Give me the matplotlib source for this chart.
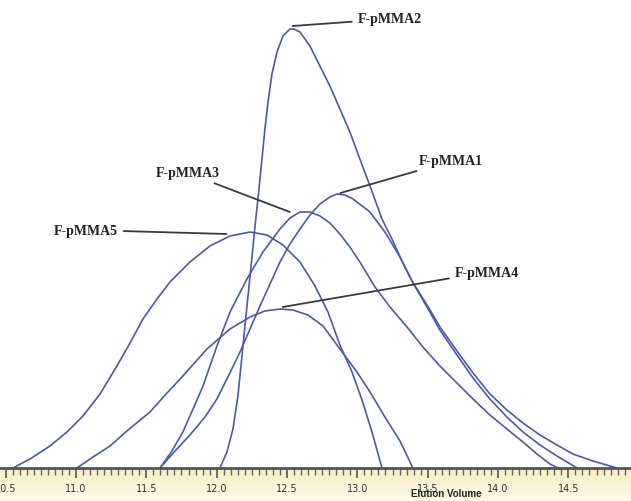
import matplotlib.pyplot as plt
from matplotlib.colors import LinearSegmentedColormap
import numpy as np

# elution volume (mL) / detector signal (arbitrary units)
pmma5_x = [10.552, 10.673, 10.815, 10.936, 11.050, 11.171, 11.291, 11.384, 11.476,
           11.576, 11.668, 11.810, 11.952, 12.095, 12.237, 12.358, 12.471, 12.592,
           12.699, 12.791, 12.876, 12.962, 13.033, 13.104, 13.175]
pmma5_y = [0, 9, 22, 36, 52, 74, 102, 125, 149, 169, 186, 206, 222, 232, 236, 233,
           223, 206, 182, 156, 123, 96, 68, 36, 0]

pmma4_x = [11.007, 11.121, 11.242, 11.362, 11.526, 11.647, 11.760, 11.931, 12.095,
           12.237, 12.343, 12.450, 12.542, 12.649, 12.756, 12.876, 12.997, 13.090,
           13.196, 13.303, 13.395]
pmma4_y = [0, 11, 22, 37, 56, 75, 92, 119, 139, 151, 157, 159, 158, 153, 142, 119,
           96, 76, 51, 27, 0]

pmma3_x = [11.597, 11.682, 11.760, 11.832, 11.903, 12.002, 12.095, 12.215, 12.329,
           12.450, 12.521, 12.592, 12.663, 12.734, 12.805, 12.876, 12.947, 13.018,
           13.125, 13.232, 13.353, 13.466, 13.587, 13.708, 13.822, 13.942, 14.063,
           14.177, 14.277, 14.369, 14.426]
pmma3_y = [0, 17, 36, 59, 82, 122, 156, 189, 216, 239, 250, 256, 256, 252, 245, 234,
           221, 206, 181, 161, 141, 121, 102, 85, 69, 53, 39, 26, 14, 4, 0]

pmma1_x = [11.597, 11.704, 11.810, 11.917, 12.002, 12.080, 12.166, 12.237, 12.308,
           12.379, 12.450, 12.521, 12.592, 12.663, 12.734, 12.805, 12.855, 12.912,
           12.969, 13.090, 13.196, 13.303, 13.388, 13.495, 13.587, 13.708, 13.822,
           13.942, 14.063, 14.177, 14.298, 14.419, 14.532, 14.674, 14.845]
pmma1_y = [0, 17, 33, 51, 69, 91, 116, 139, 162, 184, 206, 224, 239, 253, 264, 271,
           274, 273, 269, 256, 236, 211, 187, 163, 141, 117, 95, 74, 58, 45, 33, 23,
           14, 7, 0]

pmma2_x = [12.023, 12.045, 12.073, 12.116, 12.151, 12.180, 12.201, 12.222, 12.251,
           12.272, 12.294, 12.322, 12.343, 12.365, 12.393, 12.429, 12.471, 12.521,
           12.549, 12.592, 12.663, 12.734, 12.805, 12.876, 12.947, 13.018, 13.090,
           13.175, 13.246, 13.317, 13.388, 13.495, 13.587, 13.708, 13.822, 13.942,
           14.063, 14.177, 14.298, 14.419, 14.490, 14.561]
pmma2_y = [0, 7, 16, 39, 72, 112, 142, 171, 211, 241, 270, 309, 339, 366, 394, 416,
           432, 439, 439, 436, 422, 402, 382, 359, 336, 309, 282, 249, 229, 207, 187,
           161, 138, 113, 90, 69, 51, 36, 23, 12, 6, 0]

# label text, anchor point on the curve, text position
labels = ['F-pMMA2', 'F-pMMA3', 'F-pMMA5', 'F-pMMA1', 'F-pMMA4']
anchor_x = [12.54, 12.52, 12.07, 12.88, 12.47]
anchor_y = [442, 256, 234, 275, 161]
text_x = [13.00, 12.02, 11.30, 13.44, 13.69]
text_y = [449, 295, 238, 307, 196]

tick_labels = ['10.5', '11.0', '11.5', '12.0', '12.5', '13.0', '13.5', '14.0', '14.5']

line_color = '#4b59ad'

fig = plt.figure(figsize=(6.31, 5.02), dpi=100)

# pale yellow band under the axis
band = fig.add_axes([0, 0, 1, 33 / 502])
grad = np.linspace(0, 1, 50).reshape(-1, 1)
band.imshow(grad, aspect='auto', extent=[0, 1, 0, 1],
            cmap=LinearSegmentedColormap.from_list('band', ['#f7edc4', '#fffbea']))
band.axis('off')

ax = fig.add_axes([0, 33 / 502, 1, 469 / 502])
ax.patch.set_alpha(0)

for xs, ys in [(pmma5_x, pmma5_y), (pmma4_x, pmma4_y), (pmma3_x, pmma3_y),
               (pmma1_x, pmma1_y), (pmma2_x, pmma2_y)]:
    ax.plot(xs, ys, color=line_color, lw=1.2, solid_joinstyle='round')

for lab, px, py, tx, ty in zip(labels, anchor_x, anchor_y, text_x, text_y):
    ha = 'right' if tx < px else 'left'
    ax.annotate(lab, xy=(px, py), xytext=(tx, ty), ha=ha, va='center',
                fontsize=10, fontweight='bold', family='Liberation Serif',
                color='#222222',
                arrowprops=dict(arrowstyle='-', color='#3a3a3a', lw=1.3,
                                shrinkA=2, shrinkB=0))

ax.set_xlim(10.46, 14.945)
ax.set_ylim(0, 469)

ax.set_xticks(np.arange(10.5, 14.95, 0.5))
ax.set_xticklabels(tick_labels, fontsize=7, family='DejaVu Sans', color='#333333')
ax.set_xticks(np.arange(10.5, 14.95, 0.05), minor=True)
ax.tick_params(axis='x', which='major', direction='out', length=7, width=1.2,
               color='#555555', pad=4)
ax.tick_params(axis='x', which='minor', direction='out', length=5, width=1,
               color='#666666')
ax.set_yticks([])
for s in ['top', 'left', 'right']:
    ax.spines[s].set_visible(False)
ax.spines['bottom'].set_color('#555555')
ax.spines['bottom'].set_linewidth(2)

fig.text(446 / 631, 1 - 494 / 502, 'Elution Volume', ha='center', va='center',
         fontsize=7, fontweight='bold', family='Liberation Sans', color='#222222')

fig.savefig('out.png', dpi=100)
